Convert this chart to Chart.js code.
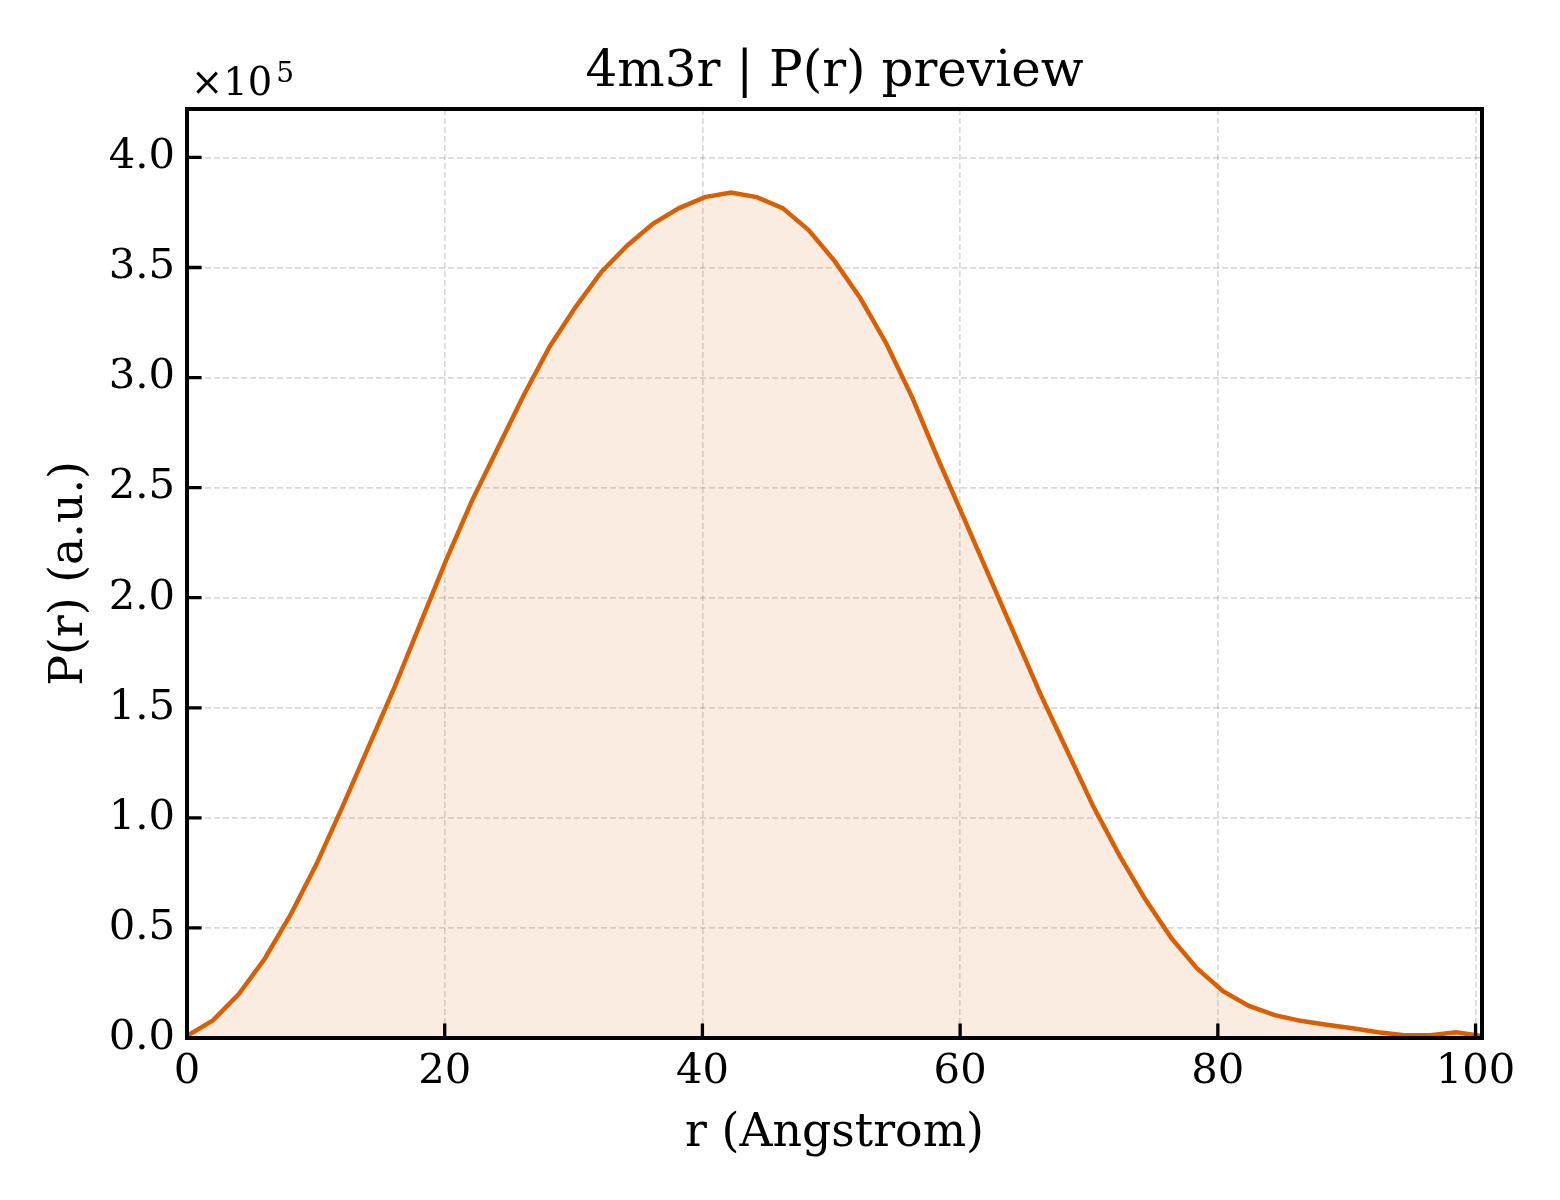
<!DOCTYPE html>
<html>
<head>
<meta charset="utf-8">
<script src="https://cdn.jsdelivr.net/npm/chart.js@4.4.1/dist/chart.umd.min.js"></script>
<style>
  html, body { margin: 0; padding: 0; background: #fff; }
  #wrap { width: 1560px; height: 1200px; }
</style>
</head>
<body>
<div id="wrap"><canvas id="prChart"></canvas></div>
<script>
const r = [0, 2.01, 4.02, 6.03, 8.04, 10.05, 12.06, 14.07, 16.08, 18.09,
  20.1, 22.11, 24.12, 26.13, 28.14, 30.15, 32.16, 34.17, 36.18, 38.19,
  40.2, 42.21, 44.22, 46.23, 48.24, 50.25, 52.26, 54.27, 56.28, 58.29,
  60.3, 62.31, 64.32, 66.33, 68.34, 70.35, 72.36, 74.37, 76.38, 78.39,
  80.4, 82.41, 84.42, 86.43, 88.44, 90.45, 92.46, 94.47, 96.48, 98.49, 100.5];
const pr = [1000, 8000, 20000, 36000, 56000, 79000, 105000, 132000, 159000, 188000,
  217000, 244000, 268000, 292000, 314000, 332000, 348000, 360000, 370000, 377000,
  382000, 384000, 382000, 377000, 367000, 353000, 336000, 315500, 291000, 263000,
  236000, 209000, 182000, 155000, 130000, 105000, 83000, 63000, 45500, 31600,
  21300, 14600, 10400, 7800, 6000, 4400, 2600, 1200, 1300, 2600, 900];
const xTicks = [0, 20, 40, 60, 80, 100];
const yTicks = [0, 50000, 100000, 150000, 200000, 250000, 300000, 350000, 400000];

const SERIF = '"DejaVu Serif", "Liberation Serif", serif';
const LINE = '#d95f02';

// matplotlib-ish frame: inward ticks, full box, titles, offset text
const frame = {
  id: 'frame',
  afterDatasetsDraw(chart) {
    const { ctx, chartArea: a, scales } = chart;
    ctx.save();
    ctx.strokeStyle = '#000';
    ctx.lineWidth = 3.3;
    ctx.beginPath();
    xTicks.forEach(v => {
      const x = scales.x.getPixelForValue(v);
      ctx.moveTo(x, a.bottom);
      ctx.lineTo(x, a.bottom - 14.6);
    });
    yTicks.forEach(v => {
      const y = scales.y.getPixelForValue(v);
      ctx.moveTo(a.left, y);
      ctx.lineTo(a.left + 14.6, y);
    });
    ctx.stroke();

    ctx.lineWidth = 4;
    ctx.strokeRect(a.left, a.top, a.right - a.left, a.bottom - a.top);

    ctx.fillStyle = '#000';
    ctx.textBaseline = 'alphabetic';
    ctx.textAlign = 'center';
    const cx = (a.left + a.right) / 2;
    ctx.font = '50px ' + SERIF;
    ctx.fillText('4m3r | P(r) preview', cx, 86);
    ctx.font = '45.8px ' + SERIF;
    ctx.fillText('r (Angstrom)', cx, 1146);

    ctx.save();
    ctx.translate(82, (a.top + a.bottom) / 2);
    ctx.rotate(-Math.PI / 2);
    ctx.fillText('P(r) (a.u.)', 0, 0);
    ctx.restore();

    ctx.textAlign = 'left';
    ctx.font = '38.5px ' + SERIF;
    ctx.fillText('\u00d710', 191, 95);
    const w = ctx.measureText('\u00d710').width;
    ctx.font = '28px ' + SERIF;
    ctx.fillText('5', 191 + w + 4, 82);
    ctx.restore();
  }
};

new Chart(document.getElementById('prChart'), {
  type: 'line',
  data: {
    datasets: [{
      label: 'P(r)',
      data: r.map((v, i) => ({ x: v, y: pr[i] })),
      borderColor: LINE,
      borderWidth: 4.5,
      backgroundColor: 'rgba(217, 95, 2, 0.12)',
      fill: 'origin',
      tension: 0,
      pointRadius: 0
    }]
  },
  options: {
    responsive: true,
    maintainAspectRatio: false,
    devicePixelRatio: 1,
    animation: false,
    layout: { padding: { left: 0, right: 78, top: 109, bottom: 0 } },
    plugins: {
      legend: { display: false },
      tooltip: { enabled: false }
    },
    scales: {
      x: {
        type: 'linear',
        min: 0,
        max: 100.5,
        afterBuildTicks: s => { s.ticks = xTicks.map(v => ({ value: v })); },
        afterFit: s => { s.height = 162; },
        ticks: {
          color: '#000',
          font: { family: SERIF, size: 41.7 },
          padding: 9,
          maxRotation: 0,
          autoSkip: false
        },
        grid: { color: 'rgba(0,0,0,0.15)', lineWidth: 1.7, drawTicks: false },
        border: { display: false, dash: [6, 3] }
      },
      y: {
        min: 0,
        max: 422000,
        afterBuildTicks: s => { s.ticks = yTicks.map(v => ({ value: v })); },
        afterFit: s => { s.width = 187; },
        ticks: {
          color: '#000',
          font: { family: SERIF, size: 41.7 },
          padding: 12,
          callback: v => (v / 1e5).toFixed(1)
        },
        grid: { color: 'rgba(0,0,0,0.15)', lineWidth: 1.7, drawTicks: false },
        border: { display: false, dash: [6, 3] }
      }
    }
  },
  plugins: [frame]
});
</script>
</body>
</html>
